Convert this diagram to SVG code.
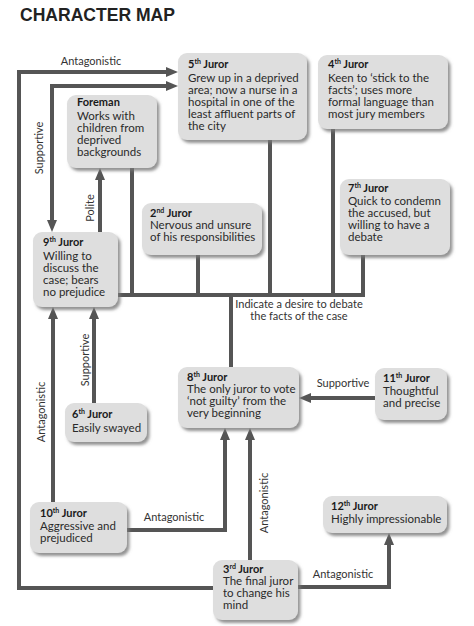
<svg xmlns="http://www.w3.org/2000/svg" width="474" height="626" viewBox="0 0 474 626">
<style>
.box{fill:#dedede;}
.hd{font-family:Lato,"Liberation Sans",sans-serif;font-weight:bold;font-size:11px;fill:#1a1a1a;}
.bd{font-family:Lato,"Liberation Sans",sans-serif;font-size:11.5px;fill:#2a2a2a;}
.sup{font-size:7px;}
.lbl{font-family:Lato,"Liberation Sans",sans-serif;font-size:11px;fill:#333;}
.ln{fill:none;stroke:#555;stroke-width:4;}
.title{font-family:"Liberation Sans",sans-serif;font-weight:bold;font-size:19px;fill:#222;}
</style>
<defs>
<filter id="sh" x="-10%" y="-10%" width="130%" height="140%">
<feDropShadow dx="2.5" dy="3" stdDeviation="1.5" flood-color="#777" flood-opacity="0.8"/>
</filter>
<marker id="ar" viewBox="0 0 12 10" refX="2" refY="5" markerWidth="12" markerHeight="10" markerUnits="userSpaceOnUse" orient="auto-start-reverse">
<path d="M0,0 L12,5 L0,10 z" fill="#555"/>
</marker>
</defs>
<rect width="474" height="626" fill="#fff"/>
<text class="title" x="20" y="21" textLength="155" lengthAdjust="spacingAndGlyphs">CHARACTER MAP</text>

<g id="connectors">
<path class="ln" d="M213,588 H19 V72 H168" marker-end="url(#ar)"/>
<path class="ln" d="M52,222 V86 H168" marker-start="url(#ar)" marker-end="url(#ar)"/>
<path class="ln" d="M100,232 V178" marker-end="url(#ar)"/>
<path class="ln" d="M132,168 V295"/>
<path class="ln" d="M118,295 H365"/>
<path class="ln" d="M198,255 V295"/>
<path class="ln" d="M270,140 V295"/>
<path class="ln" d="M333,129 V295"/>
<path class="ln" d="M363,255 V297"/>
<path class="ln" d="M231,295 V367"/>
<path class="ln" d="M375,398 H309" marker-end="url(#ar)"/>
<path class="ln" d="M127,530 H225 V438" marker-end="url(#ar)"/>
<path class="ln" d="M250,560 V438" marker-end="url(#ar)"/>
<path class="ln" d="M298,587 H389 V543" marker-end="url(#ar)"/>
<path class="ln" d="M53,502 V317" marker-end="url(#ar)"/>
<path class="ln" d="M94,403 V317" marker-end="url(#ar)"/>
<text class="lbl" x="91" y="65" text-anchor="middle">Antagonistic</text>
<text class="lbl" transform="translate(43,148) rotate(-90)" text-anchor="middle">Supportive</text>
<text class="lbl" transform="translate(94,208) rotate(-90)" text-anchor="middle">Polite</text>
<text class="lbl" transform="translate(89,360) rotate(-90)" text-anchor="middle">Supportive</text>
<text class="lbl" transform="translate(45,412) rotate(-90)" text-anchor="middle">Antagonistic</text>
<text class="lbl" x="174" y="521" text-anchor="middle">Antagonistic</text>
<text class="lbl" x="343" y="387" text-anchor="middle">Supportive</text>
<text class="lbl" transform="translate(268,503) rotate(-90)" text-anchor="middle">Antagonistic</text>
<text class="lbl" x="343" y="578" text-anchor="middle">Antagonistic</text>
<text class="lbl" x="299" y="308" text-anchor="middle">Indicate a desire to debate</text>
<text class="lbl" x="299" y="320" text-anchor="middle">the facts of the case</text>
</g>

<g id="juror5">
<rect class="box" x="178" y="53" width="129" height="87" rx="9" filter="url(#sh)"/>
<text class="hd" x="188" y="68">5<tspan class="sup" dy="-4">th</tspan><tspan dy="4"> Juror</tspan></text>
<text class="bd" x="188" y="82">Grew up in a deprived</text>
<text class="bd" x="188" y="94">area; now a nurse in a</text>
<text class="bd" x="188" y="106">hospital in one of the</text>
<text class="bd" x="188" y="118">least affluent parts of</text>
<text class="bd" x="188" y="130">the city</text>
</g>
<g id="juror4">
<rect class="box" x="318" y="55" width="130" height="74" rx="9" filter="url(#sh)"/>
<text class="hd" x="328" y="68">4<tspan class="sup" dy="-4">th</tspan><tspan dy="4"> Juror</tspan></text>
<text class="bd" x="328" y="82">Keen to ‘stick to the</text>
<text class="bd" x="328" y="94">facts’; uses more</text>
<text class="bd" x="328" y="106">formal language than</text>
<text class="bd" x="328" y="118">most jury members</text>
</g>
<g id="foreman">
<rect class="box" x="67" y="95" width="90" height="73" rx="9" filter="url(#sh)"/>
<text class="hd" x="77" y="106">Foreman</text>
<text class="bd" x="77" y="120">Works with</text>
<text class="bd" x="77" y="132">children from</text>
<text class="bd" x="77" y="144">deprived</text>
<text class="bd" x="77" y="156">backgrounds</text>
</g>
<g id="juror2">
<rect class="box" x="142" y="203" width="120" height="52" rx="9" filter="url(#sh)"/>
<text class="hd" x="150" y="217">2<tspan class="sup" dy="-4">nd</tspan><tspan dy="4"> Juror</tspan></text>
<text class="bd" x="150" y="229">Nervous and unsure</text>
<text class="bd" x="150" y="241">of his responsibilities</text>
</g>
<g id="juror7">
<rect class="box" x="340" y="179" width="110" height="76" rx="9" filter="url(#sh)"/>
<text class="hd" x="348" y="192">7<tspan class="sup" dy="-4">th</tspan><tspan dy="4"> Juror</tspan></text>
<text class="bd" x="348" y="205">Quick to condemn</text>
<text class="bd" x="348" y="217">the accused, but</text>
<text class="bd" x="348" y="229">willing to have a</text>
<text class="bd" x="348" y="241">debate</text>
</g>
<g id="juror9">
<rect class="box" x="33" y="232" width="85" height="75" rx="9" filter="url(#sh)"/>
<text class="hd" x="43" y="246">9<tspan class="sup" dy="-4">th</tspan><tspan dy="4"> Juror</tspan></text>
<text class="bd" x="43" y="260">Willing to</text>
<text class="bd" x="43" y="272">discuss the</text>
<text class="bd" x="43" y="284">case; bears</text>
<text class="bd" x="43" y="296">no prejudice</text>
</g>
<g id="juror8">
<rect class="box" x="178" y="367" width="121" height="61" rx="9" filter="url(#sh)"/>
<text class="hd" x="187" y="381">8<tspan class="sup" dy="-4">th</tspan><tspan dy="4"> Juror</tspan></text>
<text class="bd" x="187" y="393">The only juror to vote</text>
<text class="bd" x="187" y="405">‘not guilty’ from the</text>
<text class="bd" x="187" y="417">very beginning</text>
</g>
<g id="juror11">
<rect class="box" x="375" y="368" width="72" height="52" rx="9" filter="url(#sh)"/>
<text class="hd" x="383" y="382">11<tspan class="sup" dy="-4">th</tspan><tspan dy="4"> Juror</tspan></text>
<text class="bd" x="383" y="395">Thoughtful</text>
<text class="bd" x="383" y="407">and precise</text>
</g>
<g id="juror6">
<rect class="box" x="65" y="403" width="82" height="39" rx="9" filter="url(#sh)"/>
<text class="hd" x="72" y="418">6<tspan class="sup" dy="-4">th</tspan><tspan dy="4"> Juror</tspan></text>
<text class="bd" x="72" y="432">Easily swayed</text>
</g>
<g id="juror10">
<rect class="box" x="30" y="502" width="97" height="51" rx="9" filter="url(#sh)"/>
<text class="hd" x="40" y="517">10<tspan class="sup" dy="-4">th</tspan><tspan dy="4"> Juror</tspan></text>
<text class="bd" x="40" y="530">Aggressive and</text>
<text class="bd" x="40" y="542">prejudiced</text>
</g>
<g id="juror12">
<rect class="box" x="323" y="496" width="124" height="37" rx="9" filter="url(#sh)"/>
<text class="hd" x="331" y="510">12<tspan class="sup" dy="-4">th</tspan><tspan dy="4"> Juror</tspan></text>
<text class="bd" x="331" y="523">Highly impressionable</text>
</g>
<g id="juror3">
<rect class="box" x="213" y="560" width="85" height="60" rx="9" filter="url(#sh)"/>
<text class="hd" x="223" y="573">3<tspan class="sup" dy="-4">rd</tspan><tspan dy="4"> Juror</tspan></text>
<text class="bd" x="223" y="585">The final juror</text>
<text class="bd" x="223" y="597">to change his</text>
<text class="bd" x="223" y="609">mind</text>
</g>
</svg>
